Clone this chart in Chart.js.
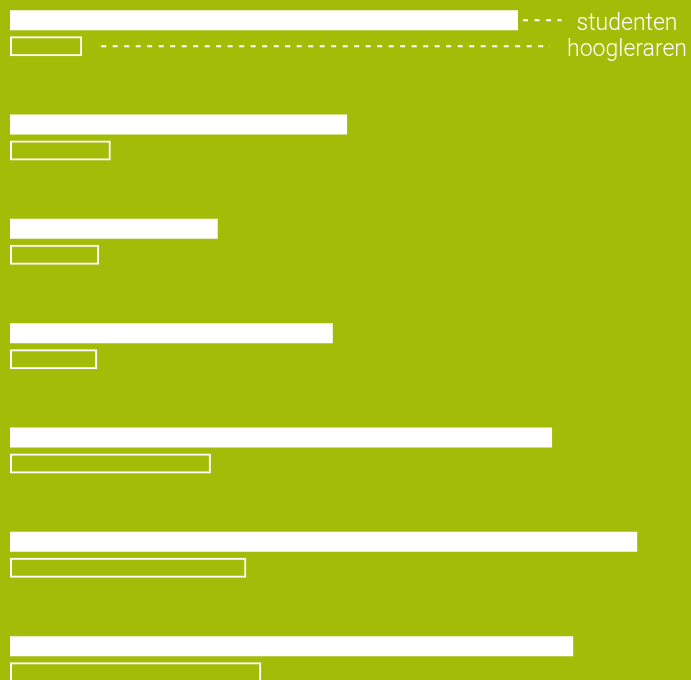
<!DOCTYPE html>
<html>
<head>
<meta charset="utf-8">
<script src="https://cdn.jsdelivr.net/npm/chart.js@4"></script>
<style>
    html, body {
        margin: 0;
        padding: 0;
        width: 691px;
        height: 680px;
        overflow: hidden;
        background: #a2bc08;
    }
    .chart-wrap {
        position: absolute;
        left: 0;
        top: -19.2px;
        width: 691px;
        height: 730.3px;
    }
</style>
</head>
<body>
<div class="chart-wrap"><canvas id="barChart"></canvas></div>
<script>
// Data (share of the axis)
const categories = ['1', '2', '3', '4', '5', '6', '7'];
const studenten = [74.6, 49.5, 30.5, 47.4, 79.6, 92.1, 82.7];
const hoogleraren = [10.6, 14.8, 13.1, 12.8, 29.5, 34.7, 36.9];
const seriesLabels = ['studenten', 'hoogleraren'];

// Labels with dashed leader lines next to the first pair of bars
const seriesLabelPlugin = {
    id: 'seriesLabels',
    afterDatasetsDraw(chart) {
        const ctx = chart.ctx;
        const textCenter = 627;
        const startGap = [5, 19];
        const endGap = [15, 17];
        ctx.save();
        ctx.font = '300 23px Roboto';
        ctx.fillStyle = '#ffffff';
        ctx.strokeStyle = '#ffffff';
        ctx.lineWidth = 2;
        chart.data.datasets.forEach((ds, i) => {
            const bar = chart.getDatasetMeta(i).data[0];
            const w = ctx.measureText(seriesLabels[i]).width;
            const textLeft = textCenter - w / 2;
            ctx.setLineDash([5, 6.5]);
            ctx.beginPath();
            ctx.moveTo(bar.x + startGap[i], bar.y);
            ctx.lineTo(textLeft - endGap[i], bar.y);
            ctx.stroke();
            ctx.setLineDash([]);
            ctx.textAlign = 'center';
            ctx.textBaseline = 'alphabetic';
            ctx.fillText(seriesLabels[i], textCenter, bar.y + 10);
        });
        ctx.restore();
    }
};

new Chart(document.getElementById('barChart'), {
    type: 'bar',
    data: {
        labels: categories,
        datasets: [
            {
                label: seriesLabels[0],
                data: studenten,
                backgroundColor: '#ffffff',
                borderWidth: 0
            },
            {
                label: seriesLabels[1],
                data: hoogleraren,
                backgroundColor: 'rgba(0, 0, 0, 0)',
                borderColor: '#ffffff',
                borderWidth: 2,
                borderSkipped: false
            }
        ]
    },
    options: {
        indexAxis: 'y',
        responsive: true,
        maintainAspectRatio: false,
        animation: false,
        categoryPercentage: 0.4984,
        barPercentage: 0.7692,
        layout: {
            padding: { left: 10, right: 0, top: 0, bottom: 0 }
        },
        plugins: {
            legend: { display: false },
            tooltip: { enabled: false }
        },
        scales: {
            x: {
                display: false,
                min: 0,
                max: 100
            },
            y: {
                display: false
            }
        }
    },
    plugins: [seriesLabelPlugin]
});
</script>
</body>
</html>
